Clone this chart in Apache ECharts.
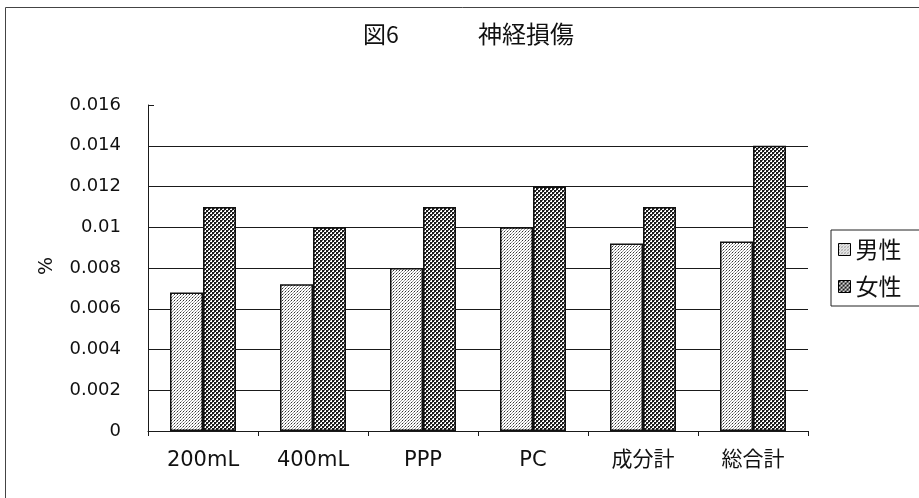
<!DOCTYPE html>
<html><head><meta charset="utf-8">
<script src="https://cdn.jsdelivr.net/npm/echarts@6/dist/echarts.min.js"></script>
<style>html,body{margin:0;padding:0;background:#fff}#c{width:919px;height:498px}</style>
</head><body><div id="c"></div>
<script>
const categories = ['200mL', '400mL', 'PPP', 'PC', '成分計', '総合計'];
const male = [0.0068, 0.0072, 0.008, 0.010, 0.0092, 0.0093];
const female = [0.011, 0.010, 0.011, 0.012, 0.011, 0.014];
const seriesNames = ['男性', '女性'];
const yTicks = [0, 0.002, 0.004, 0.006, 0.008, 0.01, 0.012, 0.014, 0.016];

function makePattern(kind) {
  const c = document.createElement('canvas');
  const s = kind === 'male' ? 3 : 4;
  c.width = s; c.height = s;
  const g = c.getContext('2d');
  g.fillStyle = '#fff'; g.fillRect(0, 0, s, s);
  if (kind === 'male') {
    g.fillStyle = '#333';
    g.fillRect(0, 0, 1, 1);
    g.fillStyle = '#999';
    g.fillRect(1, 2, 1, 1);
    g.fillRect(2, 1, 1, 1);
  } else {
    g.fillStyle = '#1a1a1a';
    g.fillRect(0, 0, 2, 2);
    g.fillRect(2, 2, 2, 2);
    g.fillStyle = '#666';
    g.fillRect(2, 0, 1, 1);
    g.fillRect(0, 2, 1, 1);
  }
  return c;
}
const malePat = { image: makePattern('male'), repeat: 'repeat' };
const femalePat = { image: makePattern('female'), repeat: 'repeat' };

const font = "'DejaVu Sans', 'Noto Sans CJK JP', sans-serif";
const cjk = "'Noto Sans CJK JP', sans-serif";
const chart = echarts.init(document.getElementById('c'));
const splitColors = yTicks.map((v, i) => i === yTicks.length - 1 ? 'rgba(0,0,0,0)' : '#1a1a1a');

chart.setOption({
  animation: false,
  backgroundColor: '#fff',
  graphic: [
    { type: 'rect', shape: { x: 5.5, y: 7.5, width: 1000, height: 600 }, style: { fill: 'none', stroke: '#444', lineWidth: 1 } },
    { type: 'text', x: 363, y: 34, style: { text: '図6', fontSize: 23, fontFamily: cjk, fill: '#111', align: 'left', verticalAlign: 'middle' } },
    { type: 'text', x: 478, y: 34, style: { text: '神経損傷', fontSize: 24, fontFamily: cjk, fill: '#111', align: 'left', verticalAlign: 'middle' } },
    { type: 'text', x: 47, y: 266, rotation: Math.PI / 2, style: { text: '%', fontSize: 19, fontFamily: font, fill: '#111', align: 'center', verticalAlign: 'middle' } }
  ],
  legend: {
    orient: 'vertical', left: 831, top: 230,
    data: seriesNames,
    icon: 'rect', itemWidth: 12, itemHeight: 12, itemGap: 14,
    borderColor: '#222', borderWidth: 1, padding: [8, 30, 8, 7],
    textStyle: { fontSize: 23, fontFamily: cjk, color: '#111', padding: [0, 0, 0, 0] },
    itemStyle: { borderColor: '#000', borderWidth: 1 }
  },
  grid: { left: 148, right: 111, top: 105, bottom: 67 },
  xAxis: {
    type: 'category', data: categories,
    axisLine: { lineStyle: { color: '#1a1a1a', width: 1 } },
    axisTick: { show: true, length: 5, lineStyle: { color: '#1a1a1a' } },
    axisLabel: { fontSize: 21, fontFamily: font, color: '#111', margin: 19 }
  },
  yAxis: {
    type: 'value', min: 0, max: 0.016, interval: 0.002,
    axisLine: { show: true, lineStyle: { color: '#1a1a1a', width: 1 } },
    axisTick: { show: true, inside: true, length: 6, lineStyle: { color: '#1a1a1a' } },
    splitLine: { show: true, lineStyle: { color: splitColors, width: 1 } },
    axisLabel: { fontSize: 18, fontFamily: font, color: '#111', margin: 27,
      formatter: v => String(parseFloat(v.toFixed(4))) }
  },
  series: [
    { name: seriesNames[0], type: 'bar', data: male, barGap: '0%', barCategoryGap: '40%',
      itemStyle: { color: malePat, borderColor: '#111', borderWidth: 1.5 } },
    { name: seriesNames[1], type: 'bar', data: female,
      itemStyle: { color: femalePat, borderColor: '#111', borderWidth: 1.5 } }
  ]
});
</script></body></html>
